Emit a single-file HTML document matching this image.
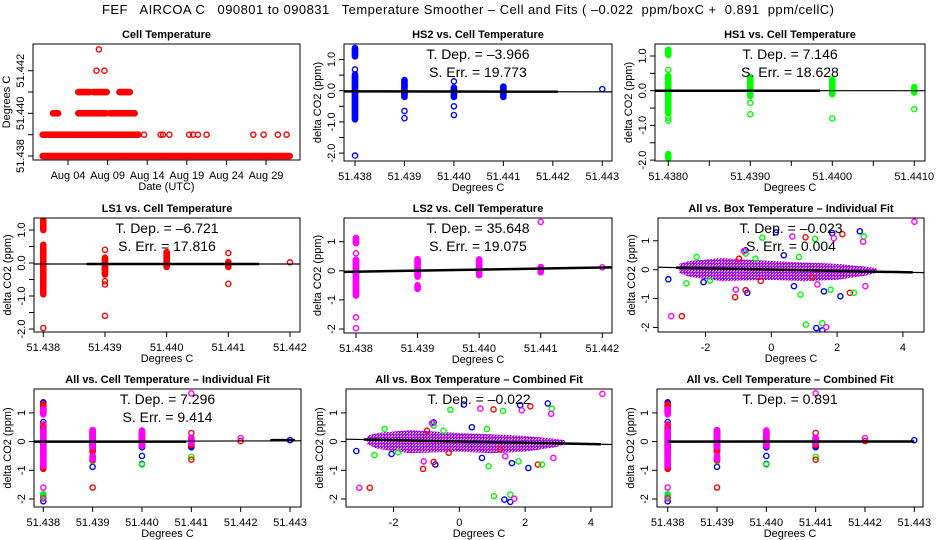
<!DOCTYPE html>
<html><head><meta charset="utf-8"><style>
html,body{margin:0;padding:0;background:#fff;}
svg{display:block;font-family:"Liberation Sans",sans-serif;}
</style></head><body>
<svg id="chart" xmlns="http://www.w3.org/2000/svg" width="936" height="540" viewBox="0 0 936 540">
<defs><pattern id="chk" width="3" height="3" patternUnits="userSpaceOnUse"><rect width="3" height="3" fill="#ff00ff"/><rect width="1" height="1" fill="#0000ff"/><rect x="1" y="1" width="1" height="1" fill="#ffffff"/><rect x="2" y="2" width="1" height="1" fill="#0000ff"/><rect x="2" y="0" width="1" height="1" fill="#ffffff"/></pattern></defs>
<rect width="936" height="540" fill="#fff"/>
<text x="468" y="14" text-anchor="middle" font-size="13" textLength="732" xml:space="preserve">FEF   AIRCOA C   090801 to 090831   Temperature Smoother – Cell and Fits ( –0.022  ppm/boxC +  0.891  ppm/cellC)</text>
</svg>
<script>
// ---- Cell temperature time series (runs of hourly points) ----
const runVal=[51.438,51.439,51.440,51.440,51.440,51.441,51.441,51.441];
const runStart=[0.8,0.8,2.1,5.3,9.3,5.3,7.2,10.5];
const runEnd=[32.0,12.9,2.8,8.9,12.5,6.8,8.9,11.8];
const ptDay=[13.6,15.7,16.0,16.8,19.3,19.8,20.4,21.5,27.4,28.7,30.5,31.6,7.6,8.6,7.9];
const ptVal=[51.439,51.439,51.439,51.439,51.439,51.439,51.439,51.439,51.439,51.439,51.439,51.439,51.442,51.442,51.443];
// ---- HS2 ----
const hs2Cat=[51.438,51.438,51.439,51.440,51.441];
const hs2Lo=[-0.92,1.1,-0.2,-0.2,-0.2];
const hs2Hi=[0.52,1.38,0.35,0.12,0.15];
const hs2OutX=[51.438,51.438,51.439,51.439,51.440,51.440,51.440,51.443];
const hs2OutY=[0.68,-2.08,-0.65,-0.88,0.3,-0.5,-0.78,0.05];
// ---- HS1 ----
const hs1Cat=[51.438,51.438,51.438,51.439,51.440,51.441];
const hs1Lo=[-0.65,1.03,-1.95,-0.15,-0.1,-0.05];
const hs1Hi=[0.45,1.2,-1.83,0.4,0.32,0.1];
const hs1OutX=[51.438,51.438,51.438,51.439,51.439,51.440,51.441];
const hs1OutY=[0.6,-0.78,-0.86,-0.35,-0.68,-0.8,-0.53];
// ---- LS1 ----
const ls1Cat=[51.438,51.438,51.439,51.440,51.441];
const ls1Lo=[-0.95,1.0,-0.35,-0.12,-0.12];
const ls1Hi=[0.55,1.3,0.18,0.35,0.05];
const ls1OutX=[51.438,51.439,51.439,51.439,51.439,51.441,51.441,51.442];
const ls1OutY=[-1.97,0.4,-0.55,-0.65,-1.6,0.3,-0.63,0.02];
// ---- LS2 ----
const ls2Cat=[51.438,51.438,51.439,51.439,51.440,51.441];
const ls2Lo=[-0.85,0.95,-0.2,-0.62,-0.15,-0.05];
const ls2Hi=[0.4,1.15,0.42,-0.48,0.4,0.15];
const ls2OutX=[51.438,51.438,51.438,51.441,51.442];
const ls2OutY=[0.6,-1.6,-1.97,1.68,0.12];
// ---- Box temperature scatter ----
const bandX=[-2.8,-2.5,-1.5,0,1,2,2.9,3.2];
const bandTop=[0.2,0.3,0.4,0.3,0.25,0.2,0.1,0.05];
const bandBot=[-0.1,-0.25,-0.4,-0.35,-0.4,-0.35,-0.2,-0.1];
const boxBlueX=[-3.13,0.14,1.85,2.69,1.37,1.55,-2.06,-0.78,-0.73,2.1,1.6,0.69,0.38];
const boxBlueY=[-0.33,1.29,1.27,1.33,-2.02,-2.1,-0.43,0.67,-0.8,-0.92,-0.75,-0.57,0.5];
const boxRedX=[-2.72,1.04,-1.1,2.16,2.39,-0.78,1.25,-0.32,-0.98];
const boxRedY=[-1.61,1.12,-0.95,1.23,-0.8,-0.71,-0.27,-0.39,0.38];
const boxGreenX=[-0.27,1.33,1.05,1.55,-2.58,-1.86,0.89,1.8,2.81,2.51,-0.78,-0.48,0.84,-2.27];
const boxGreenY=[1.11,1.07,-1.9,-1.85,-0.47,-0.37,-0.86,-0.69,1.15,-0.8,0.56,0.38,0.44,0.44];
const boxMagX=[-3.04,4.35,0.64,1.67,2.79,-1.08,2.86,-0.83,1.9,1.4];
const boxMagY=[-1.61,1.66,1.15,-1.99,0.97,-0.69,-0.57,0.64,1.09,-0.51];
// ---- Fit results ----
const boxSlope=-0.023, boxIntercept=0.005, ls2Slope=35.648, ls2Intercept=-0.03;

const NS='http://www.w3.org/2000/svg';
const svg=document.getElementById('chart');
function mk(tag,attrs,parent){const e=document.createElementNS(NS,tag);for(const k in attrs)e.setAttribute(k,attrs[k]);(parent||svg).appendChild(e);return e;}
function scale(v0,v1,p0,p1){return v=>p0+(v-v0)*(p1-p0)/(v1-v0);}

function panel(o){
  const g=mk('g',{});
  
  
  o.x=scale(o.xv[0],o.xv[1],o.xp[0],o.xp[1]);
  o.y=scale(o.yv[0],o.yv[1],o.yp[0],o.yp[1]);
  o.g=g;
  const t=mk('text',{x:(o.L+o.R)/2,y:o.T-6,'text-anchor':'middle','font-size':11,'font-weight':'bold'},g);
  t.textContent=o.title;
  
  
  const xt=mk('text',{x:(o.L+o.R)/2,y:o.B+30,'text-anchor':'middle','font-size':11},g);
  xt.textContent=o.xlab;
  
  
  const yt=mk('text',{x:o.L-23,y:(o.T+o.B)/2,'text-anchor':'middle','font-size':11,transform:`rotate(-90 ${o.L-23} ${(o.T+o.B)/2})`},g);
  yt.textContent=o.ylab;
  
  
  o.xt.forEach((v,i)=>{
    const px=o.x(v);
    const tk=mk('line',{x1:px,x2:px,y1:o.B,y2:o.B+5,stroke:'#000'},g);
    
    
    if(o.xl[i]){const l=mk('text',{x:px,y:o.B+19,'text-anchor':'middle','font-size':11},g);l.textContent=o.xl[i];
      
      }
  });
  o.yt.forEach((v,i)=>{
    const py=o.y(v);
    const tk=mk('line',{x1:o.L-5,x2:o.L,y1:py,y2:py,stroke:'#000'},g);
    
    
    if(o.yl[i]){const l=mk('text',{x:o.L-9,y:py,'text-anchor':'middle','font-size':11,transform:`rotate(-90 ${o.L-9} ${py})`},g);l.textContent=o.yl[i];
      
      }
  });
  const cp='clip'+o.name;
  const c=mk('clipPath',{id:cp},g);mk('rect',{x:o.L,y:o.T,width:o.R-o.L,height:o.B-o.T},c);
  o.pg=mk('g',{'clip-path':`url(#${cp})`},g);
  return o;
}
function box(o){const b=mk('rect',{x:o.L,y:o.T,width:o.R-o.L,height:o.B-o.T,fill:'none',stroke:'#000'},o.g);
  
  }
function pt(o,xv,yv,col){
  const c=mk('circle',{cx:o.x(xv),cy:o.y(yv),r:2.6,fill:'none',stroke:col,'stroke-width':1.4},o.pg);
  
  
  return c;
}
function strips(o,cat,lo,hi,ox,oy,col){
  cat.forEach((c,i)=>{for(let v=lo[i];v<=hi[i]+1e-9;v+=0.03)pt(o,c,v,col);});
  ox.forEach((c,i)=>pt(o,c,oy[i],col));
}
function fit(o,x0,y0,x1,y1,w){
  const l=mk('line',{x1:o.x(x0),y1:o.y(y0),x2:o.x(x1),y2:o.y(y1),stroke:'#000','stroke-width':w},o.pg);
  
  
}
function note(o,lines){
  lines.forEach((s,i)=>{if(!s)return;const t=mk('text',{x:(o.L+o.R)/2,y:o.T+15+i*18,'text-anchor':'middle','font-size':14},o.g);t.textContent=s;
    
    });
}
const cellT=[51.438,51.439,51.440,51.441,51.442,51.443];
const cellL=['51.438','51.439','51.440','51.441','51.442','51.443'];
const halfT=[1,0.5,0,-0.5,-1,-1.5,-2], halfL=['1.0','','0.0','','-1.0','','-2.0'];
const intT=[1,0,-1,-2], intL=['1','0','-1','-2'];
const YL='delta CO2 (ppm)', XL='Degrees C';

// Panel 1
const p1=panel({name:'cell-temperature-panel',title:'Cell Temperature',xlab:'Date (UTC)',ylab:'Degrees C',L:33,R:300,T:44,B:160,
 xv:[4,29],xp:[68,266],yv:[51.438,51.442],yp:[156,70.7],
 xt:[4,9,14,19,24,29],xl:['Aug 04','Aug 09','Aug 14','Aug 19','Aug 24','Aug 29'],
 yt:[51.438,51.439,51.440,51.441,51.442],yl:['51.438','','51.440','','51.442']});
runVal.forEach((v,i)=>{for(let d=runStart[i];d<=runEnd[i]+1e-9;d+=0.13)pt(p1,d,v,'#ff0000');});
ptDay.forEach((d,i)=>pt(p1,d,ptVal[i],'#ff0000'));
box(p1);

// Panel 2 HS2
const p2=panel({name:'hs2-panel',title:'HS2 vs. Cell Temperature',xlab:XL,ylab:YL,L:344,R:612,T:44,B:161,
 xv:[51.438,51.443],xp:[355,602.3],yv:[0,1],yp:[90.7,59.5],xt:cellT,xl:cellL,yt:halfT,yl:halfL});
strips(p2,hs2Cat,hs2Lo,hs2Hi,hs2OutX,hs2OutY,'#0000ff');
fit(p2,51.437,-0.02,51.4442,-0.04,1.2);fit(p2,51.437,-0.02,51.4421,-0.03,2.5);
note(p2,['T. Dep. =  –3.966','S. Err. =  19.773']);box(p2);

// Panel 3 HS1
const p3=panel({name:'hs1-panel',title:'HS1 vs. Cell Temperature',xlab:XL,ylab:YL,L:655,R:925,T:44,B:161,
 xv:[51.438,51.441],xp:[668.3,914.3],yv:[0,1],yp:[90.7,56],
 xt:[51.438,51.4385,51.439,51.4395,51.440,51.4405,51.441],xl:['51.4380','','51.4390','','51.4400','','51.4410'],yt:halfT,yl:halfL});
strips(p3,hs1Cat,hs1Lo,hs1Hi,hs1OutX,hs1OutY,'#00ff00');
fit(p3,51.437,0.0,51.442,0.0,1.2);fit(p3,51.437,0.0,51.43985,0.0,2.5);
note(p3,['T. Dep. =  7.146','S. Err. =  18.628']);box(p3);

// Panel 4 LS1
const p4=panel({name:'ls1-panel',title:'LS1 vs. Cell Temperature',xlab:XL,ylab:YL,L:34,R:300,T:218,B:332,
 xv:[51.438,51.442],xp:[43.3,290],yv:[0,1],yp:[263,230],xt:cellT.slice(0,5),xl:cellL.slice(0,5),yt:halfT,yl:halfL});
strips(p4,ls1Cat,ls1Lo,ls1Hi,ls1OutX,ls1OutY,'#ff0000');
fit(p4,51.437,-0.03,51.443,-0.03,1.2);fit(p4,51.4387,-0.03,51.4415,-0.03,2.5);
note(p4,['T. Dep. =  –6.721','S. Err. =  17.816']);box(p4);

// Panel 5 LS2
const p5=panel({name:'ls2-panel',title:'LS2 vs. Cell Temperature',xlab:XL,ylab:YL,L:344,R:612,T:218,B:333,
 xv:[51.438,51.442],xp:[356,602.3],yv:[0,1],yp:[270.8,241.7],xt:cellT.slice(0,5),xl:cellL.slice(0,5),yt:intT,yl:intL});
strips(p5,ls2Cat,ls2Lo,ls2Hi,ls2OutX,ls2OutY,'#ff00ff');
fit(p5,51.437,ls2Intercept-ls2Slope*0.001,51.443,ls2Intercept+ls2Slope*0.005,1.2);
[51.438,51.439,51.440,51.441,51.442].forEach(c=>fit(p5,c-0.0005,ls2Intercept+ls2Slope*(c-0.0005-51.438),c+0.0005,ls2Intercept+ls2Slope*(c+0.0005-51.438),2.5));
note(p5,['T. Dep. =  35.648','S. Err. =  19.075']);box(p5);

function boxScatter(o){
  const pts=bandX.map((x,i)=>o.x(x)+','+o.y(bandTop[i])).concat(bandX.slice().reverse().map((x,i)=>o.x(x)+','+o.y(bandBot[bandX.length-1-i])));
  const b=mk('polygon',{points:pts.join(' '),fill:'url(#chk)',stroke:'none'},o.pg);
  
  
  boxBlueX.forEach((x,i)=>pt(o,x,boxBlueY[i],'#0000ff'));
  boxRedX.forEach((x,i)=>pt(o,x,boxRedY[i],'#ff0000'));
  boxGreenX.forEach((x,i)=>pt(o,x,boxGreenY[i],'#00ff00'));
  boxMagX.forEach((x,i)=>pt(o,x,boxMagY[i],'#ff00ff'));
  fit(o,-3.6,boxIntercept-boxSlope*3.6,5,boxIntercept+boxSlope*5,1.2);
  fit(o,-2.9,boxIntercept-boxSlope*2.9,4.3,boxIntercept+boxSlope*4.3,2.5);
}
// Panel 6
const p6=panel({name:'all-box-individual-panel',title:'All vs. Box Temperature – Individual Fit',xlab:XL,ylab:YL,L:658,R:924,T:218,B:332,
 xv:[0,1],xp:[771.3,804.2],yv:[0,1],yp:[269.7,240.8],xt:[-2,0,2,4],xl:['-2','0','2','4'],yt:intT,yl:intL});
boxScatter(p6);note(p6,['T. Dep. =  –0.023','S. Err. =  0.004']);box(p6);

function allStrips(o){
  strips(o,hs2Cat,hs2Lo,hs2Hi,hs2OutX,hs2OutY,'#0000ff');
  strips(o,hs1Cat,hs1Lo,hs1Hi,hs1OutX,hs1OutY,'#00ff00');
  strips(o,ls1Cat,ls1Lo,ls1Hi,ls1OutX,ls1OutY,'#ff0000');
  strips(o,ls2Cat,ls2Lo,ls2Hi,ls2OutX,ls2OutY,'#ff00ff');
}
// Panel 7
const p7=panel({name:'all-cell-individual-panel',title:'All vs. Cell Temperature – Individual Fit',xlab:XL,ylab:YL,L:34,R:301,T:389,B:507,
 xv:[51.438,51.443],xp:[43.3,290],yv:[0,1],yp:[441.6,412.9],xt:cellT,xl:cellL,yt:intT,yl:intL});
allStrips(p7);
fit(p7,51.437,0,51.444,0.03,1.2);fit(p7,51.437,0,51.4409,0,2.5);fit(p7,51.4426,0.05,51.4431,0.05,2.5);
note(p7,['T. Dep. =  7.296','S. Err. =  9.414']);box(p7);

// Panel 8
const p8=panel({name:'all-box-combined-panel',title:'All vs. Box Temperature – Combined Fit',xlab:XL,ylab:YL,L:346,R:612,T:389,B:507,
 xv:[0,1],xp:[459.3,492.2],yv:[0,1],yp:[441.6,412.9],xt:[-2,0,2,4],xl:['-2','0','2','4'],yt:intT,yl:intL});
boxScatter(p8);note(p8,['T. Dep. =  –0.022']);box(p8);

// Panel 9
const p9=panel({name:'all-cell-combined-panel',title:'All vs. Cell Temperature – Combined Fit',xlab:XL,ylab:YL,L:657,R:923,T:389,B:507,
 xv:[51.438,51.443],xp:[667.7,914.3],yv:[0,1],yp:[441.6,412.9],xt:cellT,xl:cellL,yt:intT,yl:intL});
allStrips(p9);
fit(p9,51.438,0,51.443,0.004,2.5);
note(p9,['T. Dep. =  0.891']);box(p9);
</script>
</body></html>
